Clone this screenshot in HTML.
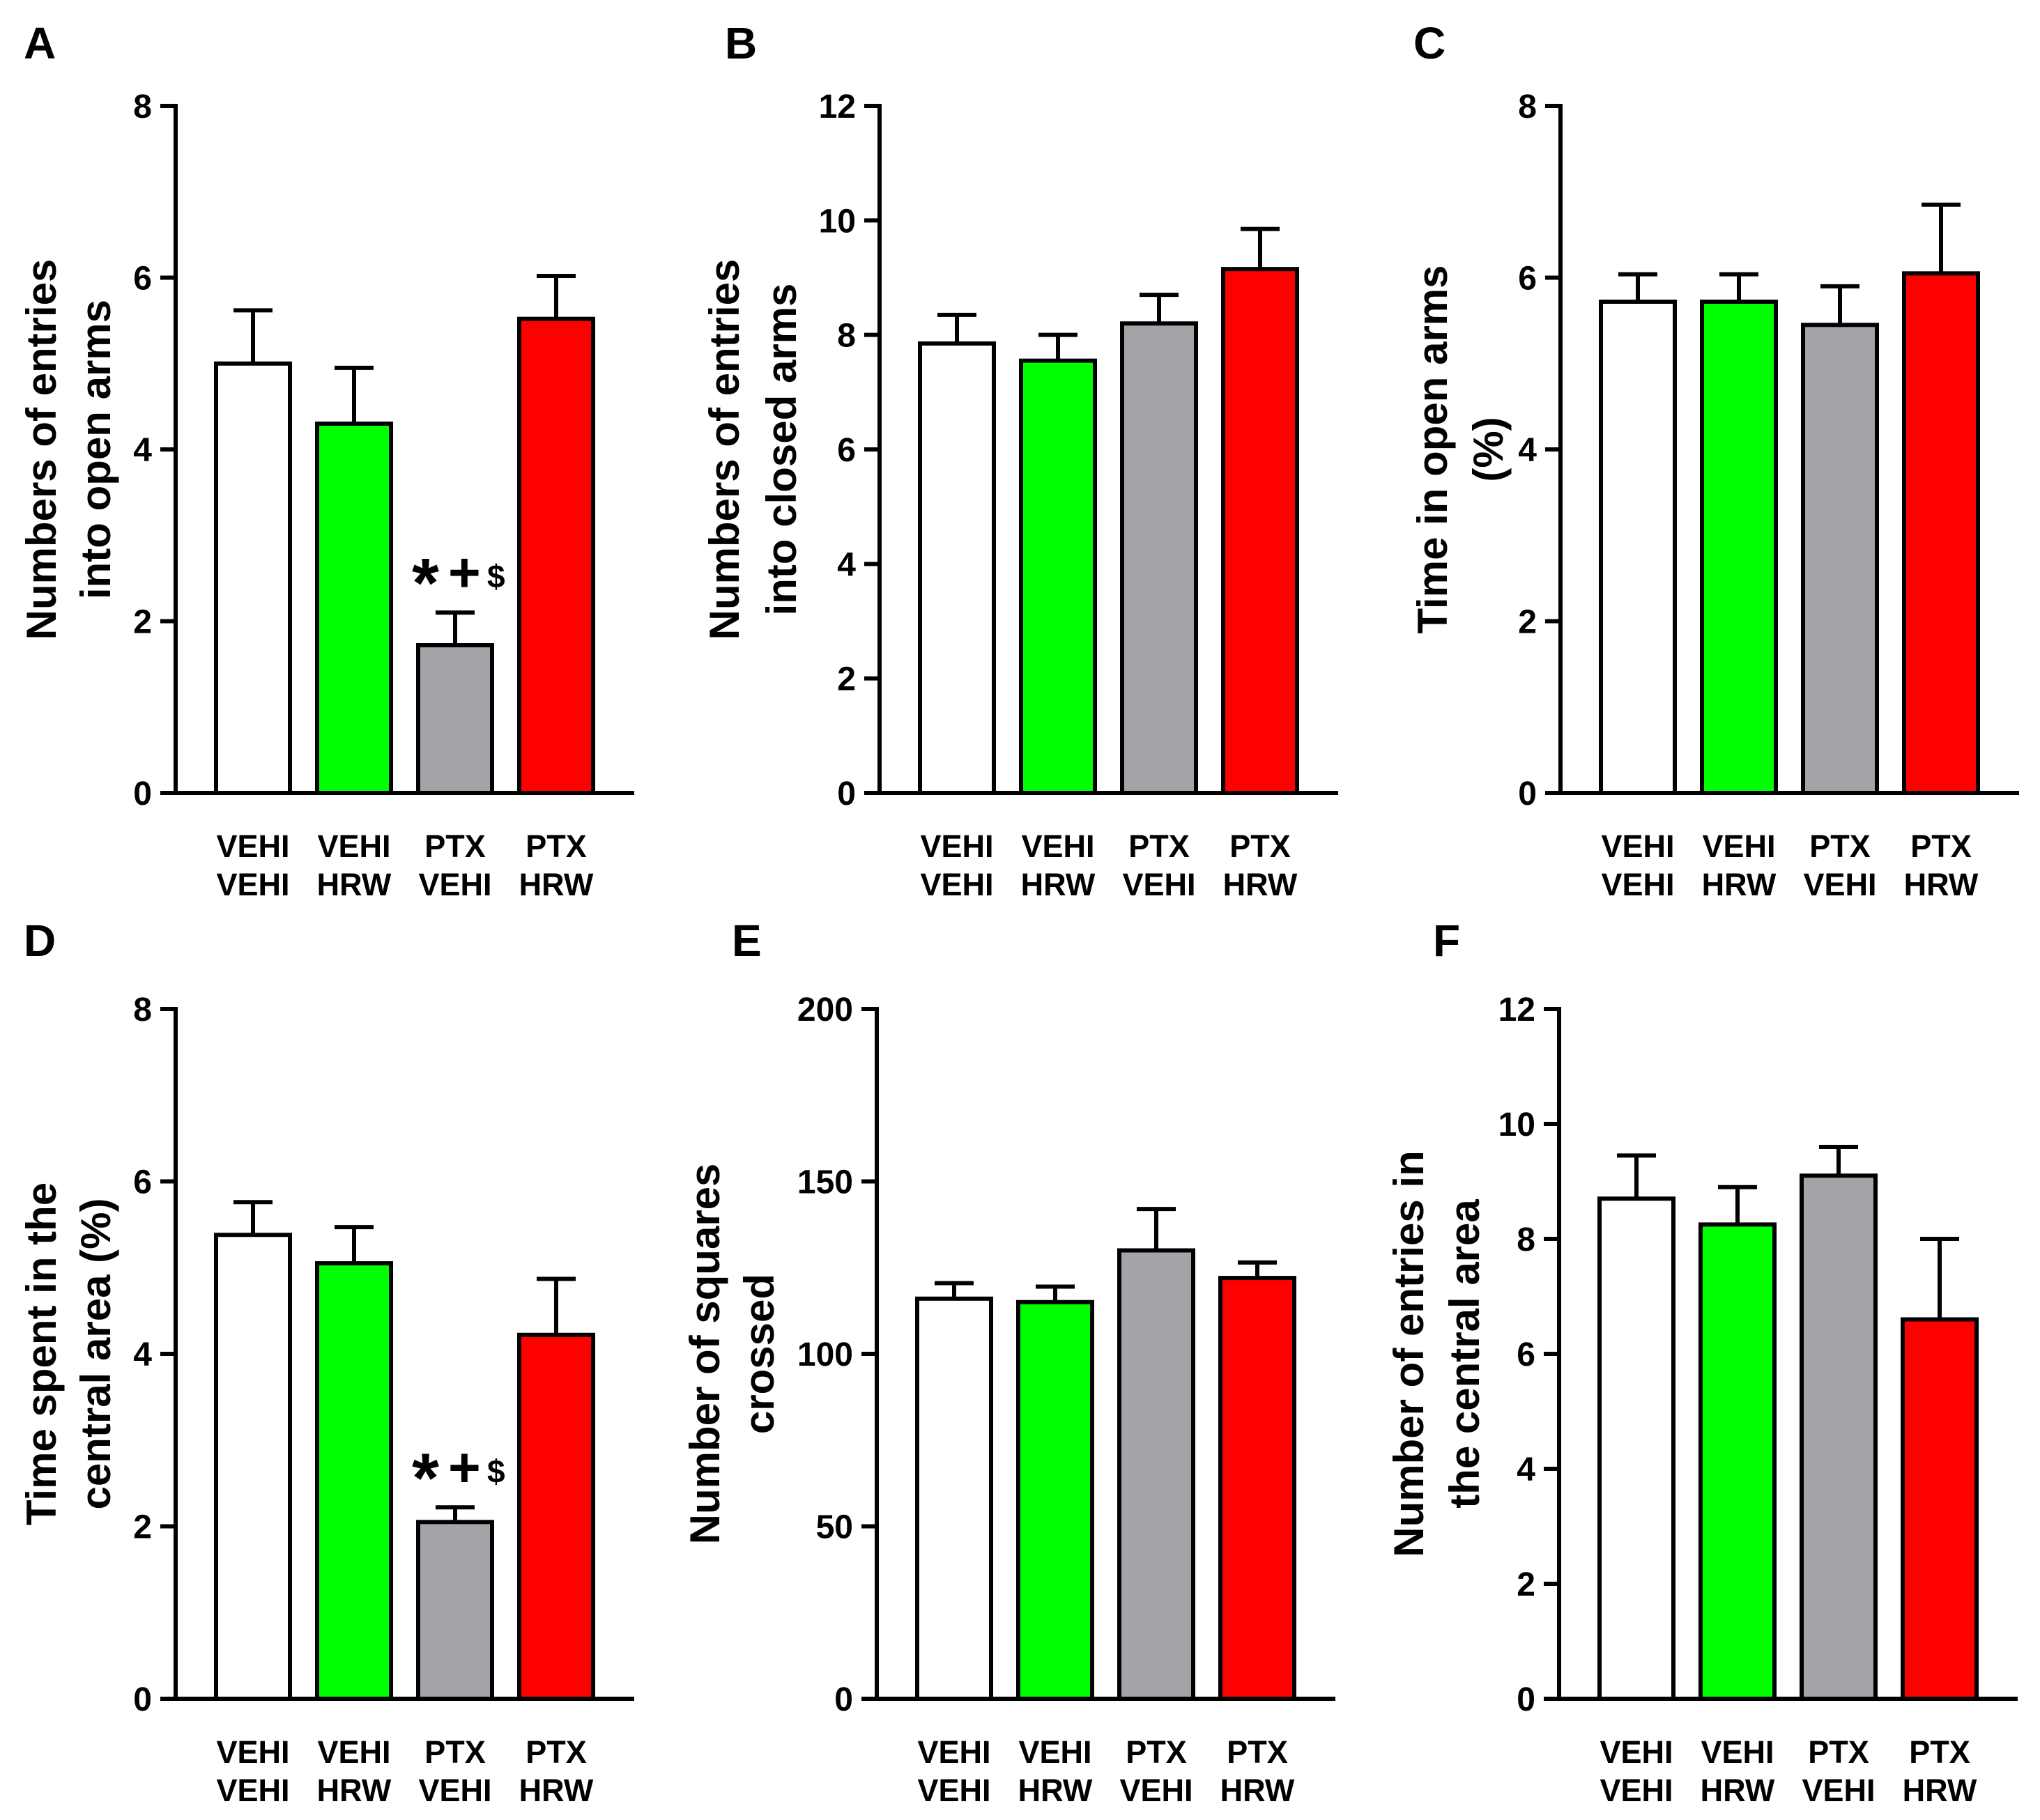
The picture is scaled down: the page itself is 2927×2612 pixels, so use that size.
<!DOCTYPE html>
<html><head><meta charset="utf-8"><style>
html,body{margin:0;padding:0;background:#fff}
svg{display:block}
text{font-family:"Liberation Sans",Arial,sans-serif}
</style></head><body>
<svg id="fig" width="2927" height="2612" viewBox="0 0 2927 2612" xmlns="http://www.w3.org/2000/svg"></svg>
<script>
const groups1 = ["VEHI","VEHI","PTX","PTX"];
const groups2 = ["VEHI","HRW","VEHI","HRW"];
const colors = ["#ffffff","#00ff00","#a3a3a8","#ff0000"];
const valsA = [5.0, 4.3, 1.72, 5.52];
const errA  = [0.62, 0.65, 0.38, 0.5];
const valsB = [7.85, 7.55, 8.2, 9.15];
const errB  = [0.5, 0.45, 0.5, 0.7];
const valsC = [5.72, 5.72, 5.45, 6.05];
const errC  = [0.32, 0.32, 0.45, 0.8];
const valsD = [5.38, 5.05, 2.05, 4.22];
const errD  = [0.38, 0.42, 0.17, 0.65];
const valsE = [116, 115, 130, 122];
const errE  = [4.5, 4.5, 12, 4.5];
const valsF = [8.7, 8.25, 9.1, 6.6];
const errF  = [0.75, 0.65, 0.5, 1.4];
const ticksA = [0,2,4,6,8];
const ticksB = [0,2,4,6,8,10,12];
const ticksE = [0,50,100,150,200];

const NS="http://www.w3.org/2000/svg";
const svg=document.getElementById('fig');
function mk(tag,attrs,parent){const e=document.createElementNS(NS,tag);for(const k in attrs)e.setAttribute(k,attrs[k]);(parent||svg).appendChild(e);return e;}

const panels=[
 {id:'a',letter:'A',lx:34,ly:84,ax:252,top:152,zero:1138,max:8,ticks:ticksA,vals:valsA,err:errA,title:["Numbers of entries","into open arms"],tx:[58,136],sig:true},
 {id:'b',letter:'B',lx:1040,ly:84,ax:1262,top:152,zero:1138,max:12,ticks:ticksB,vals:valsB,err:errB,title:["Numbers of entries","into closed arms"],tx:[1038,1120]},
 {id:'c',letter:'C',lx:2028,ly:84,ax:2239,top:152,zero:1138,max:8,ticks:ticksA,vals:valsC,err:errC,title:["Time in open arms","(%)"],tx:[2054,2134]},
 {id:'d',letter:'D',lx:34,ly:1372,ax:252,top:1448,zero:2438,max:8,ticks:ticksA,vals:valsD,err:errD,title:["Time spent in the","central area (%)"],tx:[58,136],sig:true},
 {id:'e',letter:'E',lx:1050,ly:1372,ax:1258,top:1448,zero:2438,max:200,ticks:ticksE,vals:valsE,err:errE,title:["Number of squares","crossed"],tx:[1010,1088]},
 {id:'f',letter:'F',lx:2056,ly:1372,ax:2237,top:1448,zero:2438,max:12,ticks:ticksB,vals:valsF,err:errF,title:["Number of entries in","the central area"],tx:[2020,2100]}
];

panels.forEach(p=>{
  const g=mk('g',{});
  
  
  const y=v=>p.zero-(v/p.max)*(p.zero-p.top);
  const bx=i=>p.ax+58+i*145;
  const bw=106;
  const L=mk('text',{x:p.lx,y:p.ly,'font-size':64,'font-weight':'bold'},g);L.textContent=p.letter;
  
  
  const cy=(p.top+p.zero)/2;
  p.title.forEach((t,k)=>{
    const tx=p.tx[k];
    const T=mk('text',{x:0,y:0,transform:`translate(${tx+22},${cy}) rotate(-90)`,'text-anchor':'middle','font-size':60,'font-weight':'bold'},g);
    T.textContent=t;
    
    
  });
  p.vals.forEach((v,i)=>{
    const x=bx(i), yt=y(v), ye=y(v+p.err[i]), cx=x+bw/2;
    const e=mk('line',{x1:cx,x2:cx,y1:yt,y2:ye,stroke:'#000','stroke-width':6},g);
    
    
    const c=mk('line',{x1:cx-28,x2:cx+28,y1:ye,y2:ye,stroke:'#000','stroke-width':6},g);
    
    
    const r=mk('rect',{x:x,y:yt,width:bw,height:p.zero-yt,fill:colors[i],stroke:'#000','stroke-width':6},g);
    
    
    const t1=mk('text',{x:cx,y:p.zero+92,'text-anchor':'middle','font-size':45,'font-weight':'bold'},g);t1.textContent=groups1[i];
    
    
    const t2=mk('text',{x:cx,y:p.zero+147,'text-anchor':'middle','font-size':45,'font-weight':'bold'},g);t2.textContent=groups2[i];
    
    
    if(p.sig&&i===2){
      const s=mk('text',{x:cx-62,y:ye-8,'font-size':100,'font-weight':'bold'},g);s.textContent='*';
      
      
      const s1=mk('text',{x:cx-10,y:ye-30,'font-size':80,'font-weight':'bold'},g);s1.textContent='+';
      
      
      const s2=mk('text',{x:cx+46,y:ye-36,'font-size':46,'font-weight':'bold'},g);s2.textContent='$';
      
      
    }
  });
  const ya=mk('line',{x1:p.ax,x2:p.ax,y1:p.top-3,y2:p.zero+3,stroke:'#000','stroke-width':6},g);
  
  
  const xa=mk('line',{x1:p.ax-22,x2:p.ax+658,y1:p.zero,y2:p.zero,stroke:'#000','stroke-width':6},g);
  
  
  p.ticks.forEach(t=>{
    const ty=y(t);
    const tk=mk('line',{x1:p.ax-22,x2:p.ax,y1:ty,y2:ty,stroke:'#000','stroke-width':6},g);
    
    
    const tl=mk('text',{x:p.ax-34,y:ty+17,'text-anchor':'end','font-size':48,'font-weight':'bold'},g);tl.textContent=t;
    
    
  });
});
</script>
</body></html>
